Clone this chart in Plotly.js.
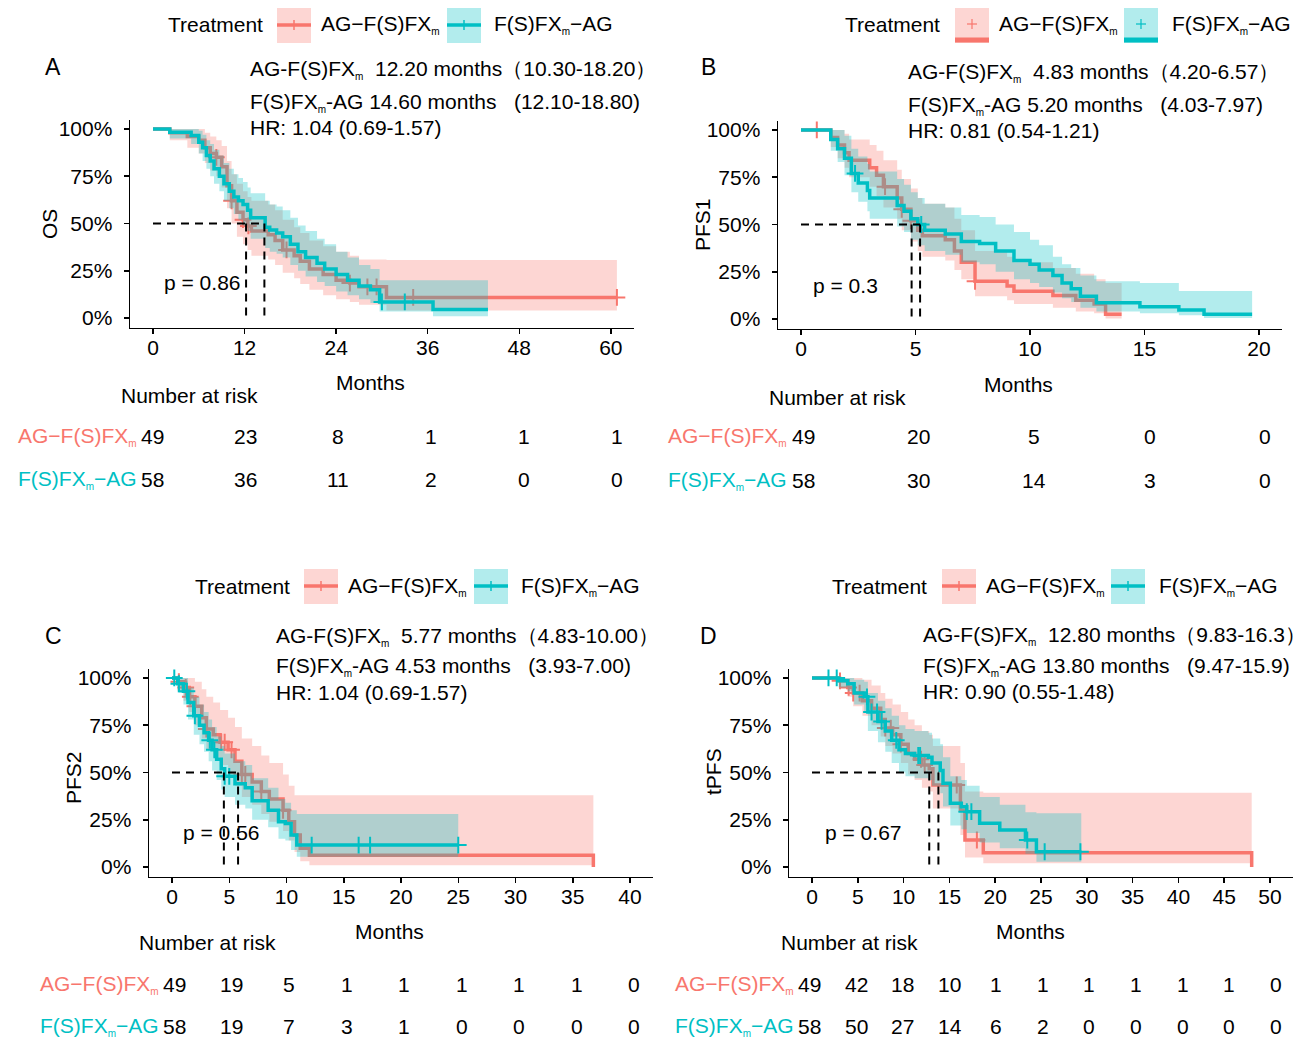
<!DOCTYPE html>
<html><head><meta charset="utf-8">
<script src="https://cdn.plot.ly/plotly-3.0.1.min.js"></script>
<style>body{margin:0;background:#fff;}#chart{width:1302px;height:1038px;}</style>
</head><body><div id="chart"></div>
<script>
// ---------------- DATA ----------------
const SUBM = '<sub><span style="font-size:10px">m</span></sub>';
const groupNames = ['AG−F(S)FX' + SUBM, 'F(S)FX' + SUBM + '−AG'];
const infoNames = ['AG-F(S)FX' + SUBM, 'F(S)FX' + SUBM + '-AG'];
const legendTitle = 'Treatment';
const riskTitle = 'Number at risk';
const xTitle = 'Months';
const yTickVals = [0, 0.25, 0.5, 0.75, 1];
const yTickText = ['0%', '25%', '50%', '75%', '100%'];

// Panel A : OS
const A_ag_t = [0, 2.2, 4.5, 6.0, 6.8, 7.5, 8.3, 9.0, 9.7, 10.3, 11.0, 11.8, 12.4, 12.9, 15.1, 16.0, 17.0, 18.5, 19.3, 20.5, 22.3, 24.0, 25.8, 27.0, 30.6, 60.8];
const A_ag_s = [1, .98, .96, .94, .90, .87, .85, .80, .70, .62, .56, .52, .487, .46, .44, .41, .36, .33, .30, .26, .23, .20, .185, .165, .109, .109];
const A_ag_u = [1, 1, 1, 1, .98, .96, .94, .91, .83, .76, .71, .67, .64, .62, .60, .57, .52, .48, .45, .41, .38, .35, .33, .31, .307, .307];
const A_ag_l = [1, .94, .90, .87, .82, .78, .75, .69, .58, .50, .43, .39, .36, .33, .31, .28, .24, .21, .18, .15, .12, .10, .085, .07, .04, .04];
const A_ag_c = [8.3, 10.3, 11.8, 12.5, 17.5, 25.8, 28.1, 29.3, 34.1, 60.8];
const A_fa_t = [0, 2.2, 5.0, 6.0, 6.5, 7.0, 7.5, 8.0, 8.7, 9.3, 10.0, 10.6, 11.2, 11.8, 12.4, 12.8, 14.7, 15.3, 16.2, 17.0, 18.0, 19.0, 20.0, 21.5, 22.5, 24.0, 25.5, 27.0, 28.5, 29.7, 36.7, 43.9];
const A_fa_s = [1, .983, .965, .93, .90, .86, .83, .79, .75, .71, .67, .64, .62, .60, .57, .53, .48, .465, .45, .43, .39, .35, .32, .29, .26, .23, .20, .17, .15, .085, .045, .045];
const A_fa_u = [1, 1, 1, .99, .97, .94, .92, .89, .86, .82, .79, .76, .74, .72, .69, .66, .62, .60, .59, .57, .53, .49, .46, .42, .39, .35, .32, .28, .26, .20, .20, .20];
const A_fa_l = [1, .95, .92, .87, .83, .79, .75, .71, .67, .62, .58, .55, .52, .49, .46, .42, .37, .35, .34, .32, .28, .25, .22, .19, .17, .14, .12, .10, .08, .035, .01, .01];
const A_fa_c = [30.0, 33.0];
const A_medians = [12.2, 14.6];
const A_ticks = [0, 12, 24, 36, 48, 60];
const A_risk_ag = [49, 23, 8, 1, 1, 1];
const A_risk_fa = [58, 36, 11, 2, 0, 0];
const A_info = ['12.20 months（10.30-18.20）', '14.60 months   (12.10-18.80)', 'HR: 1.04 (0.69-1.57)'];
const A_p = 'p = 0.86';

// Panel B : PFS1
const B_ag_t = [0, 1.3, 1.6, 1.9, 2.1, 3.0, 3.3, 3.6, 4.2, 4.4, 4.8, 5.1, 5.3, 6.3, 6.7, 7.0, 7.6, 9.0, 9.3, 11.0, 12.0, 12.8, 13.3, 14.0];
const B_ag_s = [1, .96, .92, .88, .84, .80, .76, .70, .64, .58, .52, .47, .44, .42, .36, .30, .20, .175, .147, .125, .10, .08, .025, .025];
const B_ag_u = [1, 1, 1, .98, .95, .92, .89, .84, .79, .74, .69, .64, .61, .59, .53, .47, .36, .33, .30, .27, .24, .21, .19, .19];
const B_ag_l = [1, .91, .85, .80, .75, .70, .65, .59, .53, .47, .41, .36, .33, .31, .26, .21, .12, .10, .08, .06, .04, .03, .003, .003];
const B_ag_c = [0.69, 3.67, 4.4, 4.8, 7.6];
const B_fa_t = [0, 1.3, 1.6, 1.9, 2.2, 2.5, 2.9, 3.0, 4.2, 4.5, 4.8, 5.1, 5.4, 6.3, 7.0, 7.8, 8.5, 9.3, 10.0, 10.4, 11.0, 11.4, 11.8, 12.2, 12.9, 14.8, 16.5, 17.6, 19.7];
const B_fa_s = [1, .95, .90, .85, .77, .72, .68, .64, .60, .57, .53, .50, .47, .45, .41, .40, .36, .31, .29, .26, .23, .19, .16, .12, .086, .065, .048, .026, .026];
const B_fa_u = [1, 1, 1, .97, .90, .86, .82, .78, .74, .71, .67, .64, .61, .59, .55, .54, .50, .46, .42, .39, .33, .29, .27, .23, .20, .19, .148, .148, .148];
const B_fa_l = [1, .89, .83, .76, .67, .62, .57, .53, .49, .46, .42, .39, .36, .34, .30, .29, .25, .21, .19, .17, .14, .11, .09, .06, .04, .03, .02, .005, .005];
const B_fa_c = [2.36, 5.25];
const B_medians = [4.83, 5.20];
const B_ticks = [0, 5, 10, 15, 20];
const B_risk_ag = [49, 20, 5, 0, 0];
const B_risk_fa = [58, 30, 14, 3, 0];
const B_info = ['4.83 months（4.20-6.57）', '5.20 months   (4.03-7.97)', 'HR: 0.81 (0.54-1.21)'];
const B_p = 'p = 0.3';

// Panel C : PFS2
const C_ag_t = [0, 0.5, 1.0, 1.5, 2.0, 2.6, 3.0, 3.6, 4.2, 4.9, 5.5, 6.1, 7.0, 7.8, 8.5, 9.7, 10.2, 10.7, 11.2, 12.0, 36.8, 36.8];
const C_ag_s = [1, .98, .95, .90, .85, .79, .73, .70, .66, .62, .56, .49, .45, .40, .36, .30, .24, .17, .10, .063, .063, 0];
const C_ag_u = [1, 1, 1, 1, .98, .94, .90, .87, .83, .79, .74, .68, .64, .59, .55, .49, .43, .38, .38, .38, .38, .38];
const C_ag_l = [1, .93, .88, .82, .75, .68, .62, .58, .54, .49, .43, .37, .33, .28, .24, .19, .14, .08, .03, .01, .01, .01];
const C_ag_c = [0.6, 1.2, 1.6, 2.0, 3.0, 4.3, 4.6, 5.2, 6.1, 6.4, 7.8, 9.7];
const C_fa_t = [0, 0.5, 1.0, 1.4, 1.9, 2.4, 2.8, 3.2, 3.5, 3.9, 4.3, 4.6, 5.5, 6.4, 7.0, 8.4, 9.3, 9.9, 10.4, 10.9, 25.0];
const C_fa_s = [1, .97, .93, .87, .80, .75, .71, .67, .62, .57, .52, .48, .44, .42, .35, .30, .24, .23, .17, .116, .116];
const C_fa_u = [1, 1, 1, .95, .90, .86, .82, .78, .74, .69, .64, .60, .56, .54, .47, .42, .36, .34, .30, .28, .28];
const C_fa_l = [1, .92, .86, .78, .70, .65, .61, .56, .51, .46, .41, .37, .33, .31, .25, .21, .15, .14, .09, .055, .055];
const C_fa_c = [0.2, 0.6, 1.3, 2.0, 3.3, 3.7, 4.6, 5.0, 12.2, 16.3, 17.3, 25.0];
const C_medians = [5.77, 4.53];
const C_ticks = [0, 5, 10, 15, 20, 25, 30, 35, 40];
const C_risk_ag = [49, 19, 5, 1, 1, 1, 1, 1, 0];
const C_risk_fa = [58, 19, 7, 3, 1, 0, 0, 0, 0];
const C_info = ['5.77 months（4.83-10.00）', '4.53 months   (3.93-7.00)', 'HR: 1.04 (0.69-1.57)'];
const C_p = 'p = 0.56';

// Panel D : tPFS
const D_ag_t = [0, 3.0, 3.9, 4.5, 5.5, 6.5, 7.5, 8.0, 8.8, 9.7, 10.5, 11.2, 12.0, 12.8, 13.2, 16.2, 16.7, 18.7, 48.0, 48.0];
const D_ag_s = [1, .985, .95, .92, .88, .84, .78, .735, .70, .65, .60, .57, .54, .52, .434, .30, .143, .076, .076, 0];
const D_ag_u = [1, 1, 1, 1, .99, .96, .92, .89, .86, .82, .78, .75, .72, .70, .64, .55, .40, .393, .393, .393];
const D_ag_l = [1, .95, .90, .85, .80, .75, .69, .64, .60, .55, .49, .46, .42, .40, .31, .17, .05, .02, .02, .02];
const D_ag_c = [3.06, 4.0, 4.5, 5.2, 8.0, 8.6, 9.7, 11.9, 12.3, 15.8, 18.0];
const D_fa_t = [0, 2.9, 3.9, 4.6, 5.7, 6.1, 7.2, 8.0, 8.7, 9.5, 10.2, 11.2, 12.7, 13.1, 14.0, 14.3, 15.1, 16.3, 16.9, 18.3, 20.5, 23.3, 24.5, 29.4];
const D_fa_s = [1, .985, .97, .92, .90, .82, .77, .72, .67, .62, .60, .59, .58, .55, .51, .443, .338, .319, .293, .231, .196, .143, .081, .081];
const D_fa_u = [1, 1, 1, .99, .98, .92, .88, .84, .80, .75, .73, .72, .71, .68, .65, .58, .48, .46, .43, .37, .33, .29, .285, .285];
const D_fa_l = [1, .95, .93, .86, .82, .72, .66, .61, .55, .50, .48, .47, .46, .43, .39, .32, .22, .20, .18, .13, .10, .07, .028, .028];
const D_fa_c = [1.8, 2.7, 6.0, 6.5, 7.1, 7.6, 9.2, 11.6, 11.8, 16.9, 17.4, 23.5, 25.4, 29.3];
const D_medians = [12.8, 13.8];
const D_ticks = [0, 5, 10, 15, 20, 25, 30, 35, 40, 45, 50];
const D_risk_ag = [49, 42, 18, 10, 1, 1, 1, 1, 1, 1, 0];
const D_risk_fa = [58, 50, 27, 14, 6, 2, 0, 0, 0, 0, 0];
const D_info = ['12.80 months（9.83-16.3）', '13.80 months   (9.47-15.9)', 'HR: 0.90 (0.55-1.48)'];
const D_p = 'p = 0.67';

// ---------------- STYLE / LAYOUT ----------------
const W = 1302, H = 1038;
const FONT = '"Liberation Sans", Arial, sans-serif';
const FS = 21;
const lineColors = ['#F8766D', '#00BFC4'];
const bandColors = ['rgba(248,118,109,0.3)', 'rgba(0,191,196,0.3)'];
const fx = p => p / W, fy = p => 1 - p / H;

const panels = [
  {letter:'A', ax:'', rax:'5', ytitle:'OS', range:[-3, 63], left:130.1, right:633.7, top:119.5, bottom:327.5,
   riskDom:[128.8, 640.3],
   data:[[A_ag_t, A_ag_s, A_ag_u, A_ag_l, A_ag_c], [A_fa_t, A_fa_s, A_fa_u, A_fa_l, A_fa_c]],
   medians:A_medians, ticks:A_ticks, risk:[A_risk_ag, A_risk_fa], info:A_info, p:A_p,
   pos:{letter:[53, 67], info:[248, [70, 102, 127]], pv:[1.2, 0.19], ytitle:[50, 224], xtitle:[370, 382],
        riskHead:[119, 396], riskRows:[436, 479], riskLabelRight:139,
        legend:{y:25, tx:166, boxes:[277, 447], labels:[319, 492], style:'line'}}},
  {letter:'B', ax:'2', rax:'6', ytitle:'PFS1', range:[-1, 21], left:778.1, right:1281.9, top:120.5, bottom:328.5,
   riskDom:[779.9, 1288.1],
   data:[[B_ag_t, B_ag_s, B_ag_u, B_ag_l, B_ag_c], [B_fa_t, B_fa_s, B_fa_u, B_fa_l, B_fa_c]],
   medians:B_medians, ticks:B_ticks, risk:[B_risk_ag, B_risk_fa], info:B_info, p:B_p,
   pos:{letter:[708, 67], info:[906, [73, 105, 130]], pv:[0.45, 0.18], ytitle:[703, 225], xtitle:[1018, 384],
        riskHead:[767, 397], riskRows:[437, 480], riskLabelRight:789,
        legend:{y:25, tx:843, boxes:[955, 1124], labels:[997, 1170], style:'plus'}}},
  {letter:'C', ax:'3', rax:'7', ytitle:'PFS2', range:[-2, 42], left:149.1, right:652.9, top:668.5, bottom:876.5,
   riskDom:[151, 657],
   data:[[C_ag_t, C_ag_s, C_ag_u, C_ag_l, C_ag_c], [C_fa_t, C_fa_s, C_fa_u, C_fa_l, C_fa_c]],
   medians:C_medians, ticks:C_ticks, risk:[C_risk_ag, C_risk_fa], info:C_info, p:C_p,
   pos:{letter:[53, 636], info:[274, [636, 666, 692]], pv:[0.8, 0.185], ytitle:[73, 778], xtitle:[389, 931],
        riskHead:[137, 942], riskRows:[984, 1026], riskLabelRight:161,
        legend:{y:586, tx:193, boxes:[304, 474], labels:[346, 519], style:'line'}}},
  {letter:'D', ax:'4', rax:'8', ytitle:'tPFS', range:[-2.5, 52.5], left:789.1, right:1292.9, top:668.5, bottom:876.5,
   riskDom:[786.5, 1299],
   data:[[D_ag_t, D_ag_s, D_ag_u, D_ag_l, D_ag_c], [D_fa_t, D_fa_s, D_fa_u, D_fa_l, D_fa_c]],
   medians:D_medians, ticks:D_ticks, risk:[D_risk_ag, D_risk_fa], info:D_info, p:D_p,
   pos:{letter:[708, 636], info:[921, [635, 666, 691]], pv:[1.2, 0.185], ytitle:[713, 772], xtitle:[1030, 931],
        riskHead:[779, 942], riskRows:[984, 1026], riskLabelRight:796,
        legend:{y:586, tx:830, boxes:[942, 1111], labels:[984, 1157], style:'line'}}}
];

function survAt(T, S, t) {
  let v = S[0];
  for (let i = 0; i < T.length; i++) { if (T[i] <= t) v = S[i]; }
  return v;
}

const traces = [];
const annotations = [];
const shapes = [];
const layout = {
  width: W, height: H, margin: {l:0, r:0, t:0, b:0},
  paper_bgcolor: '#fff', plot_bgcolor: 'rgba(0,0,0,0)',
  showlegend: false, font: {family: FONT, size: FS, color: '#000'},
  annotations, shapes
};

const NB = '\u00a0';
panels.forEach(p => {
  const xa = 'x' + p.ax, ya = 'y' + p.ax;
  const xk = 'xaxis' + p.ax, yk = 'yaxis' + p.ax;
  const rxa = 'x' + p.rax, rya = 'y' + p.rax;
  layout[xk] = {domain:[fx(p.left), fx(p.right)], range:p.range, anchor:ya, showgrid:false, zeroline:false,
    showline:true, linecolor:'#000', linewidth:1.5, ticks:'outside', ticklen:5, tickwidth:1.5, tickcolor:'#000',
    tickvals:p.ticks, ticktext:p.ticks.map(String), tickfont:{size:FS, color:'#000', family:FONT}, ticklabelstandoff:-4, fixedrange:true};
  layout[yk] = {domain:[fy(p.bottom), fy(p.top)], range:[-0.05, 1.05], anchor:xa, showgrid:false, zeroline:false,
    showline:true, linecolor:'#000', linewidth:1.5, ticks:'outside', ticklen:5, tickwidth:1.5, tickcolor:'#000',
    tickvals:yTickVals, ticktext:yTickText, tickfont:{size:FS, color:'#000', family:FONT}, ticklabelstandoff:7, fixedrange:true};
  // hidden axes for the risk table
  layout['xaxis' + p.rax] = {domain:[fx(p.riskDom[0]), fx(p.riskDom[1])], range:p.range, anchor:rya, visible:false, fixedrange:true};
  layout['yaxis' + p.rax] = {domain:[fy(p.pos.riskRows[1] + 20), fy(p.pos.riskRows[0] - 20)], range:[0, 1], anchor:rxa, visible:false, fixedrange:true};
  traces.push({x:[p.ticks[0]], y:[0.5], xaxis:rxa, yaxis:rya, mode:'markers', marker:{opacity:0}, hoverinfo:'skip'});

  p.data.forEach((g, gi) => {
    const [T, S, U, L, C] = g;
    traces.push({x:T, y:L, xaxis:xa, yaxis:ya, mode:'lines', line:{shape:'hv', width:0, color:bandColors[gi]}, hoverinfo:'skip'});
    traces.push({x:T, y:U, xaxis:xa, yaxis:ya, mode:'lines', line:{shape:'hv', width:0, color:bandColors[gi]}, fill:'tonexty', fillcolor:bandColors[gi], hoverinfo:'skip'});
    traces.push({x:T, y:S, xaxis:xa, yaxis:ya, mode:'lines', line:{shape:'hv', width:3.5, color:lineColors[gi]}, name:groupNames[gi]});
    traces.push({x:C, y:C.map(t => survAt(T, S, t)), xaxis:xa, yaxis:ya, mode:'markers',
      marker:{symbol:'cross-thin', size:12, line:{width:2, color:lineColors[gi]}, color:lineColors[gi]}, hoverinfo:'skip'});
  });
  // median lines
  const mMax = Math.max(...p.medians);
  traces.push({x:[0, mMax, null, p.medians[0], p.medians[0], null, p.medians[1], p.medians[1]],
    y:[0.5, 0.5, null, 0.5, 0, null, 0.5, 0], xaxis:xa, yaxis:ya, mode:'lines',
    line:{color:'#000', width:2, dash:'8px,6px'}, hoverinfo:'skip'});

  const P = p.pos;
  annotations.push({xref:'paper', yref:'paper', x:fx(P.letter[0]), y:fy(P.letter[1]), text:p.letter, showarrow:false,
    xanchor:'center', yanchor:'middle', font:{size:23}});
  const infoTexts = [infoNames[0] + NB + NB + p.info[0], infoNames[1] + NB + p.info[1].replace(/ /g, NB), p.info[2]];
  infoTexts.forEach((t, i) => annotations.push({xref:'paper', yref:'paper', x:fx(P.info[0]), y:fy(P.info[1][i]), text:t,
    showarrow:false, xanchor:'left', yanchor:'middle', font:{size:FS}}));
  annotations.push({xref:xa, yref:ya, x:P.pv[0], y:P.pv[1], text:p.p, showarrow:false, xanchor:'left', yanchor:'middle', font:{size:FS}});
  annotations.push({xref:'paper', yref:'paper', x:fx(P.ytitle[0]), y:fy(P.ytitle[1]), text:p.ytitle, textangle:-90,
    showarrow:false, xanchor:'center', yanchor:'middle', font:{size:FS}});
  annotations.push({xref:'paper', yref:'paper', x:fx(P.xtitle[0]), y:fy(P.xtitle[1]), text:xTitle,
    showarrow:false, xanchor:'center', yanchor:'middle', font:{size:FS}});
  annotations.push({xref:'paper', yref:'paper', x:fx(P.riskHead[0]), y:fy(P.riskHead[1]), text:riskTitle,
    showarrow:false, xanchor:'left', yanchor:'middle', font:{size:FS}});
  p.risk.forEach((row, gi) => {
    annotations.push({xref:'paper', yref:'paper', x:fx(P.riskLabelRight), y:fy(P.riskRows[gi]), text:groupNames[gi],
      showarrow:false, xanchor:'right', yanchor:'middle', font:{size:FS, color:lineColors[gi]}});
    row.forEach((v, i) => annotations.push({xref:rxa, yref:'paper', x:p.ticks[i], y:fy(P.riskRows[gi]), text:String(v),
      showarrow:false, xanchor:'center', yanchor:'middle', font:{size:FS}}));
  });
  // legend
  const Lg = P.legend;
  annotations.push({xref:'paper', yref:'paper', x:fx(Lg.tx), y:fy(Lg.y), text:legendTitle, showarrow:false,
    xanchor:'left', yanchor:'middle', font:{size:FS}});
  Lg.boxes.forEach((bx, gi) => {
    shapes.push({type:'rect', xref:'paper', yref:'paper', x0:fx(bx), x1:fx(bx + 34), y0:fy(Lg.y - 17), y1:fy(Lg.y + 18),
      fillcolor:bandColors[gi], line:{width:0}, layer:'above'});
    if (Lg.style === 'line') {
      shapes.push({type:'line', xref:'paper', yref:'paper', x0:fx(bx), x1:fx(bx + 34), y0:fy(Lg.y), y1:fy(Lg.y),
        line:{color:lineColors[gi], width:3.5}, layer:'above'});
      shapes.push({type:'line', xref:'paper', yref:'paper', x0:fx(bx + 17), x1:fx(bx + 17), y0:fy(Lg.y - 5), y1:fy(Lg.y + 5),
        line:{color:lineColors[gi], width:1.5}, layer:'above'});
    } else {
      shapes.push({type:'line', xref:'paper', yref:'paper', x0:fx(bx), x1:fx(bx + 34), y0:fy(Lg.y + 15), y1:fy(Lg.y + 15),
        line:{color:lineColors[gi], width:5}, layer:'above'});
      shapes.push({type:'line', xref:'paper', yref:'paper', x0:fx(bx + 12), x1:fx(bx + 22), y0:fy(Lg.y - 1), y1:fy(Lg.y - 1),
        line:{color:lineColors[gi], width:1.2}, layer:'above'});
      shapes.push({type:'line', xref:'paper', yref:'paper', x0:fx(bx + 17), x1:fx(bx + 17), y0:fy(Lg.y - 6), y1:fy(Lg.y + 4),
        line:{color:lineColors[gi], width:1.2}, layer:'above'});
    }
    annotations.push({xref:'paper', yref:'paper', x:fx(Lg.labels[gi]), y:fy(Lg.y), text:groupNames[gi], showarrow:false,
      xanchor:'left', yanchor:'middle', font:{size:FS}});
  });
});

Plotly.newPlot('chart', traces, layout, {staticPlot:true, displayModeBar:false});
</script></body></html>
